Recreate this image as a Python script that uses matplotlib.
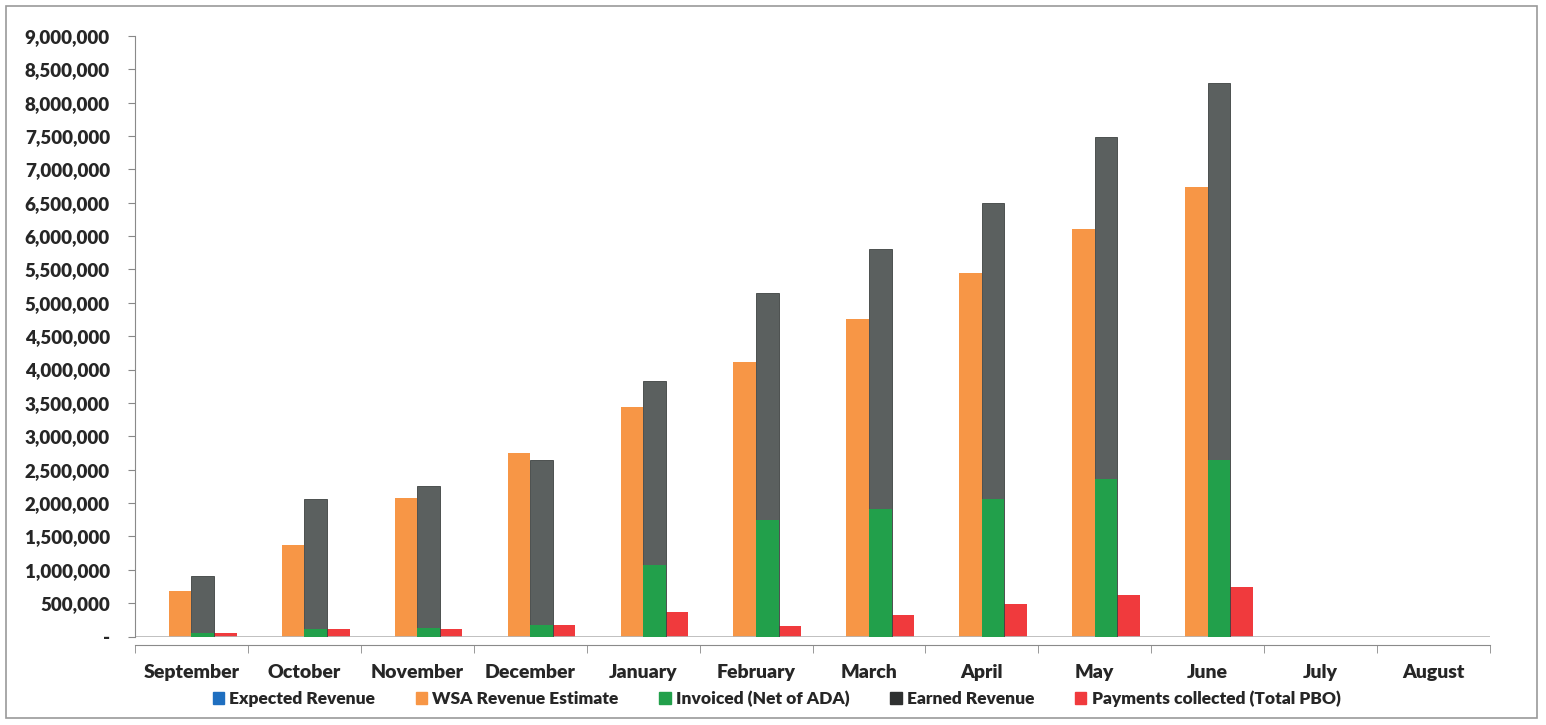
import numpy as np
import matplotlib
matplotlib.use("Agg")
import matplotlib.pyplot as plt
from matplotlib.ticker import FuncFormatter, MultipleLocator, FixedLocator
from matplotlib.patches import Rectangle, Patch

# ----------------------------- data ------------------------------------------
months = ["September", "October", "November", "December", "January", "February",
          "March", "April", "May", "June", "July", "August"]
expected = [0, 0, 0, 0, 0, 0, 0, 0, 0, 0, 0, 0]
wsa      = [680000, 1370000, 2070000, 2750000, 3440000, 4120000,
            4760000, 5450000, 6110000, 6730000, 0, 0]
invoiced = [60000, 110000, 130000, 170000, 1070000, 1750000,
            1910000, 2060000, 2360000, 2650000, 0, 0]
earned   = [910000, 2060000, 2260000, 2650000, 3830000, 5150000,
            5800000, 6500000, 7490000, 8290000, 0, 0]
payments = [60000, 120000, 120000, 170000, 370000, 160000,
            320000, 490000, 620000, 740000, 0, 0]

# ----------------------------- style -----------------------------------------
plt.rcParams["font.family"] = ["Lato", "DejaVu Sans"]
plt.rcParams["font.weight"] = "heavy"

C_BLUE, C_ORANGE, C_GREEN = "#1f6fc0", "#f79646", "#22a04b"
C_GRAY, C_RED = "#5b605f", "#f03a3d"
TXT = "#262626"

fig = plt.figure(figsize=(15.46, 7.25), dpi=100)
ax = fig.add_axes([0.0873, 0.122, 0.8765, 0.8285])

x = np.arange(len(months))
w = 0.2
ax.bar(x - 0.3, expected, w, color=C_BLUE)
ax.bar(x - 0.1, wsa, w, color=C_ORANGE)
ax.bar(x + 0.1, earned, w, color=C_GRAY, edgecolor="#3e4241", linewidth=0.6, zorder=2)
ax.bar(x + 0.1, invoiced, w, color=C_GREEN, zorder=3)
ax.bar(x + 0.3, payments, w, color=C_RED)

ax.set_xlim(-0.5, len(months) - 0.5)
ax.set_ylim(0, 9000000)
ax.axhline(0, color="#b5b5b5", lw=1.2, zorder=1)

ax.yaxis.set_major_locator(MultipleLocator(500000))
ax.yaxis.set_major_formatter(FuncFormatter(lambda v, _: "-" if v == 0 else f"{v:,.0f}"))
ax.tick_params(axis="y", labelsize=13.5, length=5, color="#888888", pad=13,
               labelcolor=TXT)

ax.set_xticks(x)
ax.set_xticklabels(months)
ax.xaxis.set_minor_locator(FixedLocator(np.arange(-0.5, len(months), 1.0)))
ax.tick_params(axis="x", which="major", length=0, labelsize=14, pad=14,
               labelcolor=TXT)
ax.tick_params(axis="x", which="minor", length=6, color="#888888")

for s in ["top", "right"]:
    ax.spines[s].set_visible(False)
ax.spines["left"].set_color("#8a8a8a")
ax.spines["bottom"].set_color("#8a8a8a")
ax.spines["bottom"].set_position(("outward", 6))

# legend keys (earned key prints darker than its bars)
keys = [("Expected Revenue", C_BLUE), ("WSA Revenue Estimate", C_ORANGE),
        ("Invoiced (Net of ADA)", C_GREEN), ("Earned Revenue", "#2f3131"),
        ("Payments collected (Total PBO)", C_RED)]
leg = fig.legend([Patch(color=c) for _, c in keys], [n for n, _ in keys],
                 loc="center", bbox_to_anchor=(0.5023, 0.036), ncol=5, frameon=False,
                 fontsize=12.5, handlelength=0.65, handleheight=0.65,
                 handletextpad=0.3, columnspacing=2.35)
for t in leg.get_texts():
    t.set_color(TXT)

fig.patches.append(Rectangle((0.004, 0.01), 0.99, 0.982, transform=fig.transFigure,
                             fill=False, edgecolor="#9a9a9a", lw=1.2))

fig.savefig("out.png", dpi=100)
